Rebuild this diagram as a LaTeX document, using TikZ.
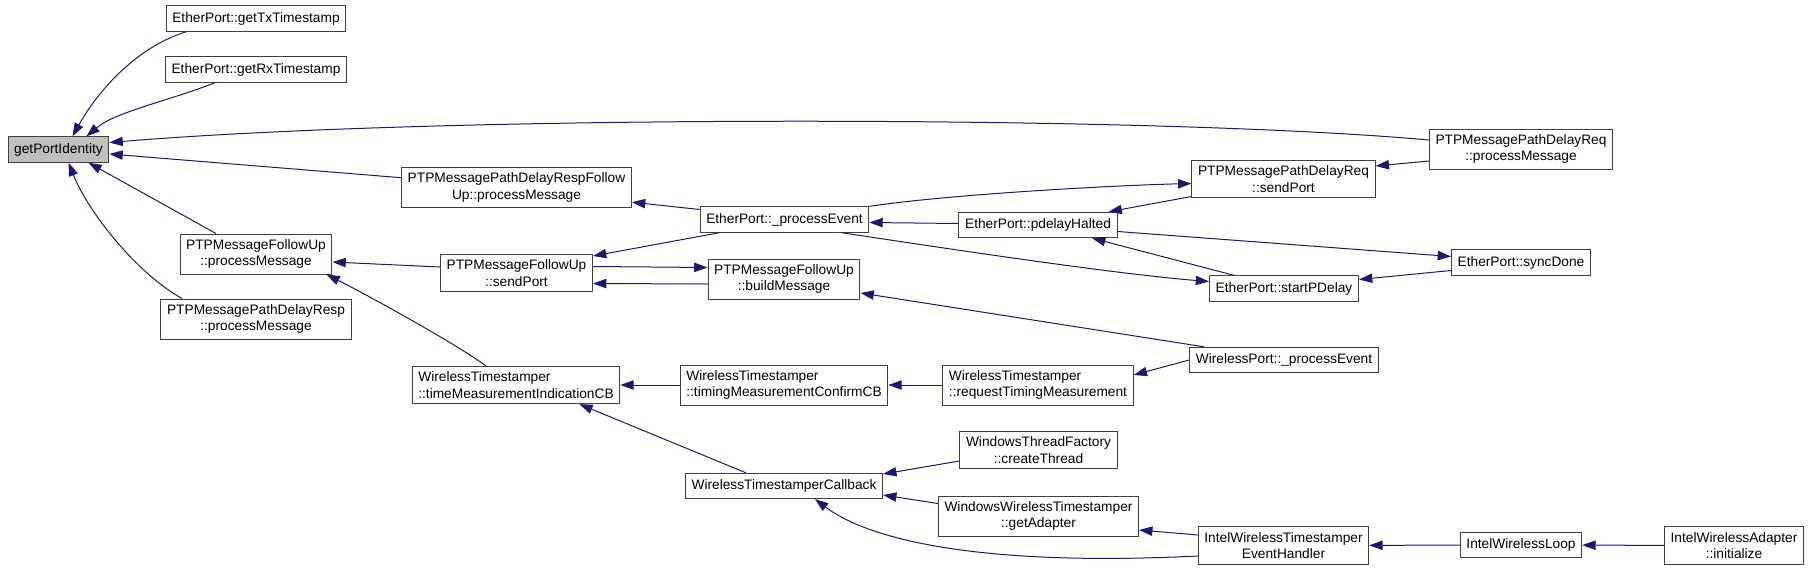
\documentclass[tikz,border=0pt]{standalone}
\usepackage{fontspec}
\setmainfont{Liberation Sans}
\usetikzlibrary{arrows.meta, calc}
\definecolor{edgeblue}{HTML}{191970}
\definecolor{boxgray}{HTML}{BFBFBF}

\begin{document}
\begin{tikzpicture}[x=0.75pt, y=-0.75pt,
  fn/.style={draw=black!75, fill=white, line width=0.75pt, inner xsep=4.6pt, inner ysep=4pt,
    minimum height=19pt, font=\fontsize{10.3}{12.4}\selectfont, align=center},
  fnl/.style={fn, align=left},
  call/.style={edgeblue, line width=0.75pt, -{Triangle[length=10pt,width=7pt]}}]
  \useasboundingbox (0,0) rectangle (1811,571);

  \node[fn, fill=boxgray] (gp) at (58.5,149.5) {getPortIdentity};
  \node[fn] (tx) at (256,18.5) {EtherPort::getTxTimestamp};
  \node[fn] (rx) at (256,69.5) {EtherPort::getRxTimestamp};
  \node[fn] (fupm) at (256,254) {PTPMessageFollowUp\\::processMessage};
  \node[fn] (pdrpm) at (256,319) {PTPMessagePathDelayResp\\::processMessage};
  \node[fn] (pdrfu) at (516.5,187.7) {PTPMessagePathDelayRespFollow\\Up::processMessage};
  \node[fn] (fusp) at (516.5,273) {PTPMessageFollowUp\\::sendPort};
  \node[fnl] (tmi) at (516,385) {WirelessTimestamper\\::timeMeasurementIndicationCB};
  \node[fn] (pe) at (784.5,219.5) {EtherPort::\_processEvent};
  \node[fn] (bm) at (784,279) {PTPMessageFollowUp\\::buildMessage};
  \node[fnl] (tmc) at (784,385) {WirelessTimestamper\\::timingMeasurementConfirmCB};
  \node[fn] (wtc) at (784,486) {WirelessTimestamperCallback};
  \node[fn] (ph) at (1038,225) {EtherPort::pdelayHalted};
  \node[fnl] (rtm) at (1038,385) {WirelessTimestamper\\::requestTimingMeasurement};
  \node[fn] (wtf) at (1038.5,450) {WindowsThreadFactory\\::createThread};
  \node[fn] (ga) at (1038.5,516) {WindowsWirelessTimestamper\\::getAdapter};
  \node[fn] (drsp) at (1283.5,179) {PTPMessagePathDelayReq\\::sendPort};
  \node[fn] (sp) at (1284,288.5) {EtherPort::startPDelay};
  \node[fn] (wp) at (1284,360) {WirelessPort::\_processEvent};
  \node[fn] (ieh) at (1283.5,545.5) {IntelWirelessTimestamper\\EventHandler};
  \node[fn] (drpm) at (1521,149) {PTPMessagePathDelayReq\\::processMessage};
  \node[fn] (sd) at (1521,262.5) {EtherPort::syncDone};
  \node[fn] (iwl) at (1521,545) {IntelWirelessLoop};
  \node[fn] (iwa) at (1734,545.5) {IntelWirelessAdapter\\::initialize};

  \draw[call] ($(tx.south west)+(21,0)$) .. controls +(-50,15) and +(25,-45) .. ($(gp.north)+(14,0)$);
  \draw[call] ($(rx.south west)+(50,0)$) .. controls +(-45,18) and +(30,-25) .. ($(gp.north east)+(-23,0)$);
  \draw[call] ($(drpm.west)+(0,-9)$) .. controls +(-277,-25) and +(338,-28) .. ($(gp.east)+(0,-7)$);
  \draw[call] ($(pdrfu.west)+(0,-10)$) -- ($(gp.east)+(0,4.5)$);
  \draw[call] ($(fupm.north)+(-40,0)$) -- ($(gp.south east)+(-21,0)$);
  \draw[call] ($(pdrpm.north)+(-74,0)$) .. controls +(-45,-25) and +(20,50) .. ($(gp.south)+(10,0)$);
  \draw[call] ($(pe.west)+(0,-10)$) -- ($(pdrfu.east)+(0,14.5)$);
  \draw[call] ($(fusp.west)+(0,-6)$) -- ($(fupm.east)+(0,8)$);
  \draw[call] ($(tmi.north)+(-30,0)$) .. controls +(-30,-22) and +(40,20) .. ($(fupm.south east)+(-6,0)$);
  \draw[call] ($(pe.south west)+(20,0)$) -- ($(fusp.east)+(0,-17)$);
  \draw[call] ($(fusp.east)+(0,-6.5)$) -- ($(bm.west)+(0,-11.5)$);
  \draw[call] ($(bm.west)+(0,5)$) -- ($(fusp.east)+(0,10.5)$);
  \draw[call] ($(ph.west)+(0,-1.5)$) -- ($(pe.east)+(0,3)$);
  \draw[call] (pe.north east) .. controls +(80,-12) and +(-80,2) .. ($(drsp.west)+(0,4.5)$);
  \draw[call] ($(drsp.west)+(0,17.5)$) -- ($(ph.north east)+(-9,0)$);
  \draw[call] ($(pe.south east)+(-28,0)$) .. controls +(80,12) and +(-100,-8) .. ($(sp.west)+(0,-7)$);
  \draw[call] ($(sp.north west)+(25,0)$) -- ($(ph.south east)+(-25.5,0)$);
  \draw[call] ($(ph.east)+(0,6.5)$) -- ($(sd.west)+(0,-6)$);
  \draw[call] ($(sd.west)+(0,8)$) -- ($(sp.east)+(0,-9)$);
  \draw[call] ($(drpm.west)+(0,12)$) -- ($(drsp.east)+(0,-13)$);
  \draw[call] ($(wp.north west)+(15,0)$) -- ($(bm.east)+(0,14)$);
  \draw[call] (tmc) -- (tmi);
  \draw[call] ($(wtc.north)+(-38,0)$) -- ($(tmi.south east)+(-41,0)$);
  \draw[call] (rtm) -- (tmc);
  \draw[call] (wp.west) -- ($(rtm.east)+(0,-10)$);
  \draw[call] ($(wtf.west)+(0,11)$) -- ($(wtc.east)+(0,-12)$);
  \draw[call] ($(ga.west)+(0,-12.5)$) -- ($(wtc.east)+(0,9)$);
  \draw[call] ($(ieh.west)+(0,10.5)$) .. controls +(-200,10) and +(60,45) .. ($(wtc.south)+(31,0)$);
  \draw[call] ($(ieh.west)+(0,-10.5)$) -- ($(ga.east)+(0,14)$);
  \draw[call] (iwl) -- (ieh);
  \draw[call] (iwa) -- (iwl);
\end{tikzpicture}
\end{document}
